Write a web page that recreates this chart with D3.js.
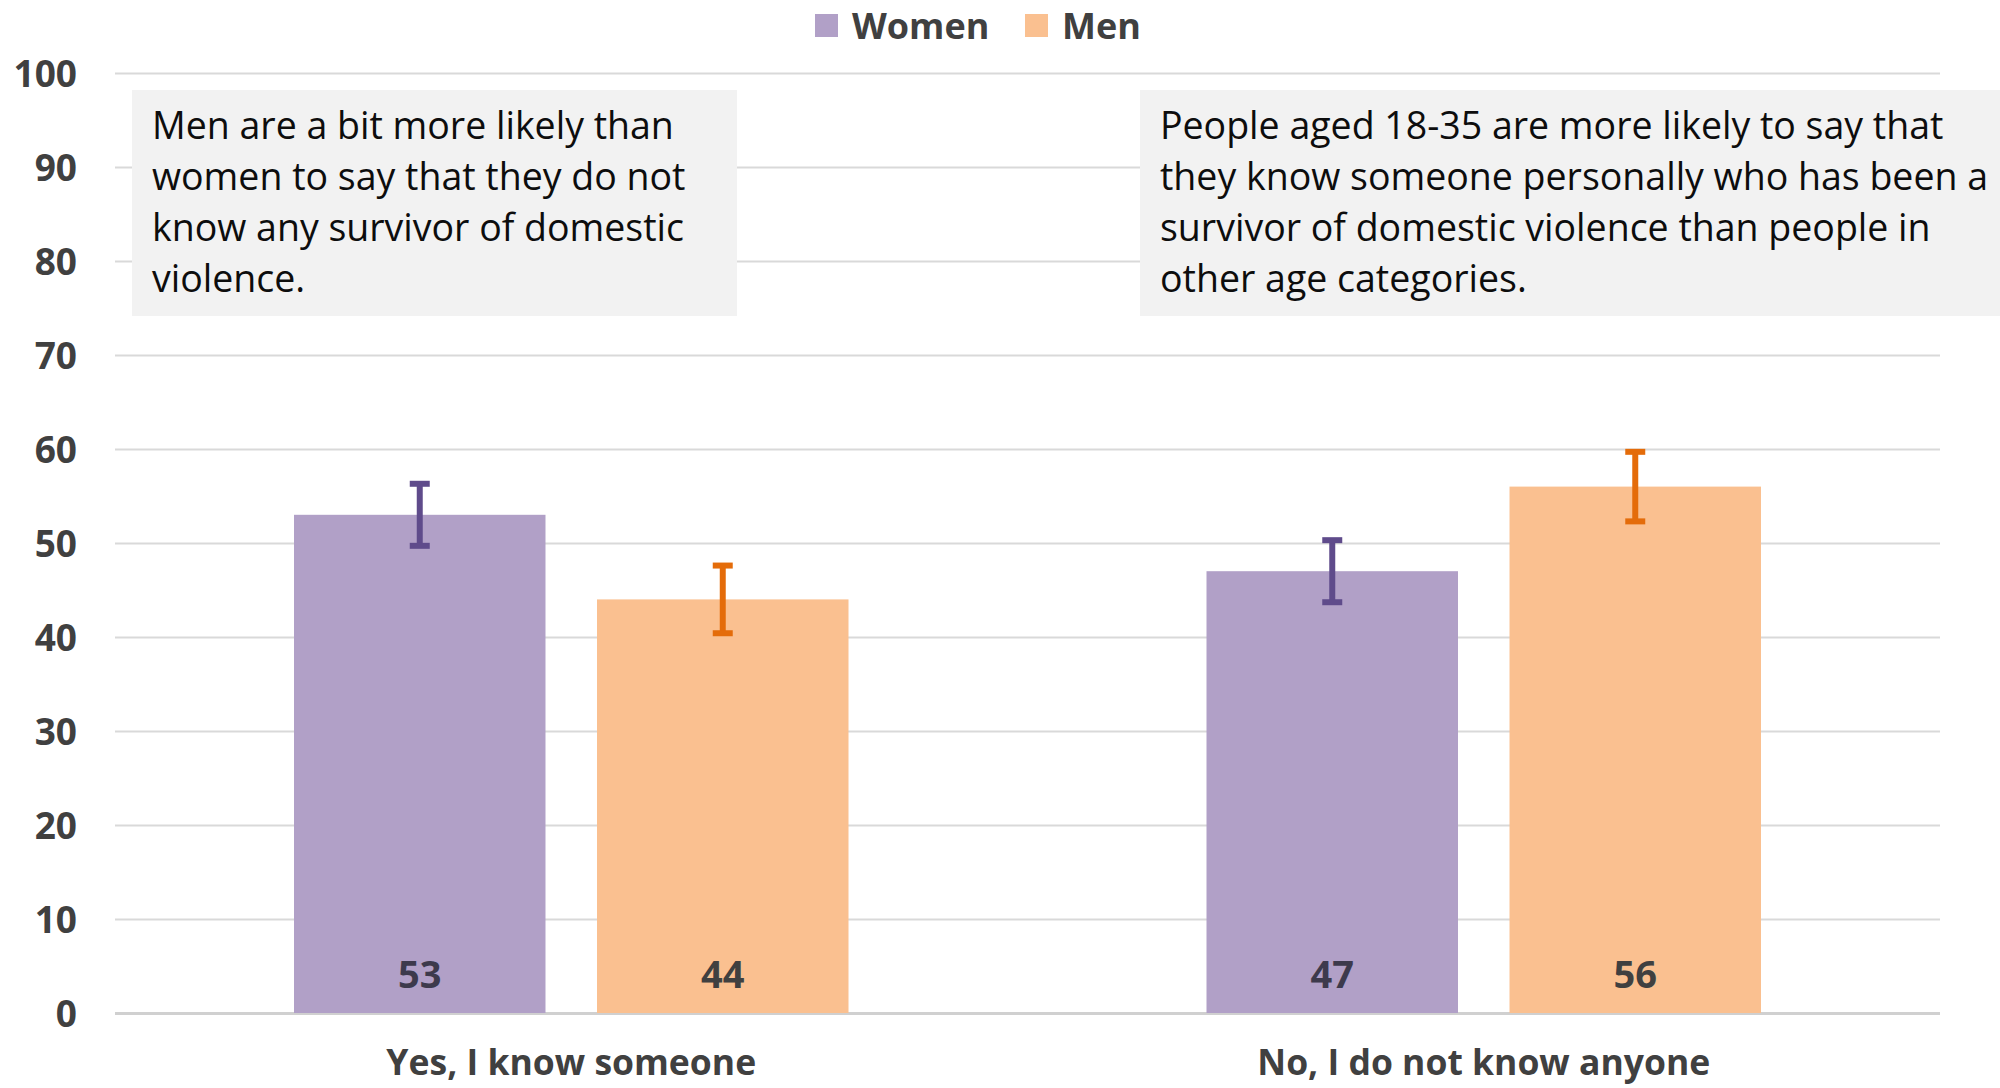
<!DOCTYPE html>
<html>
<head>
<meta charset="utf-8">
<script src="https://cdn.jsdelivr.net/npm/d3@7"></script>
<style>
  html, body { margin: 0; padding: 0; background: #ffffff; }
  svg { display: block; }
</style>
</head>
<body>
<svg id="chart" width="2000" height="1088"></svg>
<script>
// ---------- data ----------
const categories = ["Yes, I know someone", "No, I do not know anyone"];
const seriesNames = ["Women", "Men"];
const women = [53, 47];
const men = [44, 56];
const womenErr = [3.3, 3.3];
const menErr = [3.6, 3.7];
const yTicks = [0, 10, 20, 30, 40, 50, 60, 70, 80, 90, 100];
const noteLeft = ["Men are a bit more likely than", "women to say that they do not", "know any survivor of domestic", "violence."];
const noteRight = ["People aged 18-35 are more likely to say that", "they know someone personally who has been a", "survivor of domestic violence than people in", "other age categories."];

// ---------- styling ----------
const barColors = { Women: "#b1a0c7", Men: "#fac090" };
const errColors = { Women: "#5f4b8b", Men: "#e46c0a" };
const textColor = "#404040";
const FONT = "'Open Sans', Lato, sans-serif";

const svg = d3.select("#chart");
const plot = { left: 115, right: 1940, top: 73, bottom: 1013 };

const x0 = d3.scaleBand().domain(categories).range([plot.left, plot.right]).paddingInner(0).paddingOuter(0);
const x1 = d3.scaleBand().domain(seriesNames)
  .range([179, x0.bandwidth() - 179]).paddingInner(0.17).paddingOuter(0);
const y = d3.scaleLinear().domain([0, 100]).range([plot.bottom, plot.top]);

// gridlines
const yAxis = d3.axisLeft(y).tickValues(yTicks).tickSize(-(plot.right - plot.left)).tickFormat(d3.format("d")).tickPadding(38);
const gAxis = svg.append("g").attr("transform", `translate(${plot.left},0)`).call(yAxis);
gAxis.select(".domain").remove();
gAxis.selectAll(".tick line").attr("stroke", "#d9d9d9").attr("stroke-width", 2);
gAxis.selectAll(".tick").filter(d => d === 0).select("line").attr("stroke", "#d0d0d0").attr("stroke-width", 3);
gAxis.selectAll(".tick text")
  .attr("fill", textColor).attr("font-family", FONT).attr("font-weight", "bold")
  .attr("font-size", 37).attr("dy", "0.36em");

// rows
const rows = categories.map((c, i) => ({
  cat: c,
  items: [
    { s: "Women", v: women[i], e: womenErr[i] },
    { s: "Men", v: men[i], e: menErr[i] }
  ]
}));

const gCat = svg.selectAll("g.cat").data(rows).enter().append("g")
  .attr("class", "cat").attr("transform", d => `translate(${x0(d.cat)},0)`);

gCat.selectAll("rect.bar").data(d => d.items).enter().append("rect")
  .attr("class", "bar")
  .attr("x", d => x1(d.s)).attr("width", x1.bandwidth())
  .attr("y", d => y(d.v)).attr("height", d => y(0) - y(d.v))
  .attr("fill", d => barColors[d.s]);

// value labels
gCat.selectAll("text.val").data(d => d.items).enter().append("text")
  .attr("class", "val")
  .attr("x", d => x1(d.s) + x1.bandwidth() / 2)
  .attr("y", y(0) - 25)
  .attr("text-anchor", "middle")
  .attr("font-family", FONT).attr("font-weight", "bold").attr("font-size", 38)
  .attr("fill", d => d.s === "Women" ? "#3d3a4c" : "#404040")
  .text(d => d.v);

// error bars
const capW = 20;
const eb = gCat.selectAll("g.err").data(d => d.items).enter().append("g").attr("class", "err")
  .attr("stroke", d => errColors[d.s]).attr("stroke-width", 6);
eb.append("line")
  .attr("x1", d => x1(d.s) + x1.bandwidth() / 2).attr("x2", d => x1(d.s) + x1.bandwidth() / 2)
  .attr("y1", d => y(d.v + d.e)).attr("y2", d => y(d.v - d.e));
eb.append("line")
  .attr("x1", d => x1(d.s) + x1.bandwidth() / 2 - capW / 2).attr("x2", d => x1(d.s) + x1.bandwidth() / 2 + capW / 2)
  .attr("y1", d => y(d.v + d.e)).attr("y2", d => y(d.v + d.e));
eb.append("line")
  .attr("x1", d => x1(d.s) + x1.bandwidth() / 2 - capW / 2).attr("x2", d => x1(d.s) + x1.bandwidth() / 2 + capW / 2)
  .attr("y1", d => y(d.v - d.e)).attr("y2", d => y(d.v - d.e));

// category labels
svg.selectAll("text.cat").data(categories).enter().append("text")
  .attr("class", "cat")
  .attr("x", d => x0(d) + x0.bandwidth() / 2)
  .attr("y", 1075)
  .attr("text-anchor", "middle")
  .attr("font-family", FONT).attr("font-weight", "bold").attr("font-size", 35.5)
  .attr("fill", textColor)
  .text(d => d);

// legend
const legendX = [815, 1025];
const lg = svg.selectAll("g.legend").data(seriesNames).enter().append("g")
  .attr("class", "legend").attr("transform", (d, i) => `translate(${legendX[i]},14)`);
lg.append("rect").attr("width", 23).attr("height", 23).attr("fill", d => barColors[d]);
lg.append("text").attr("x", 37).attr("y", 25)
  .attr("font-family", FONT).attr("font-weight", "bold").attr("font-size", 36)
  .attr("fill", textColor).text(d => d);

// annotation boxes
function note(lines, bx, bw, tx) {
  const g = svg.append("g");
  g.append("rect").attr("x", bx).attr("y", 90).attr("width", bw).attr("height", 226).attr("fill", "#f2f2f2");
  g.selectAll("text").data(lines).enter().append("text")
    .attr("x", tx).attr("y", (d, i) => 139 + i * 51)
    .attr("font-family", FONT).attr("font-size", 37.5).attr("fill", "#0d0d0d")
    .text(d => d);
}
note(noteLeft, 132, 605, 152);
note(noteRight, 1140, 870, 1160);
</script>
</body>
</html>
